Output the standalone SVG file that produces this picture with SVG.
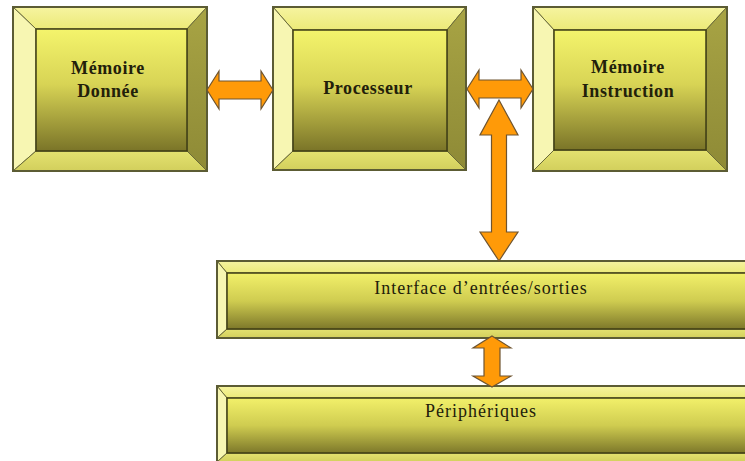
<svg xmlns="http://www.w3.org/2000/svg" width="745" height="461" viewBox="0 0 745 461">
<defs>
<linearGradient id="face" x1="0" y1="0" x2="0" y2="1">
<stop offset="0" stop-color="#f4f46c"/>
<stop offset="0.45" stop-color="#d8d455"/>
<stop offset="1" stop-color="#7a7428"/>
</linearGradient>
<linearGradient id="barface" x1="0" y1="0" x2="0" y2="1">
<stop offset="0" stop-color="#f2f06a"/>
<stop offset="0.5" stop-color="#cfcc50"/>
<stop offset="1" stop-color="#7d782a"/>
</linearGradient>
<linearGradient id="topb" x1="0" y1="0" x2="0" y2="1">
<stop offset="0" stop-color="#f6f4a0"/>
<stop offset="1" stop-color="#ecea78"/>
</linearGradient>
<linearGradient id="botb" x1="0" y1="0" x2="0" y2="1">
<stop offset="0" stop-color="#e4e270"/>
<stop offset="1" stop-color="#d2cf5c"/>
</linearGradient>
<linearGradient id="rightb" x1="0" y1="0" x2="0" y2="1">
<stop offset="0" stop-color="#a8a444"/>
<stop offset="1" stop-color="#8e8a36"/>
</linearGradient>
</defs>
<style>
.bg{fill:#ffffff}
.lb{fill:#f7f6b2;stroke:#6a6a38;stroke-width:1}
.tb{fill:url(#topb);stroke:#6a6a38;stroke-width:1}
.rb{fill:url(#rightb);stroke:#6a6a38;stroke-width:1}
.bb{fill:url(#botb);stroke:#6a6a38;stroke-width:1}
.face{fill:url(#face);stroke:#3e3c14;stroke-width:1.5}
.bface{fill:url(#barface);stroke:#3e3c14;stroke-width:1.5}
.outer{fill:none;stroke:#5c5c34;stroke-width:2}
.lbl{font-family:"Liberation Serif","Times New Roman",serif;font-weight:bold;font-size:18px;letter-spacing:0.6px;fill:#22200a;text-anchor:middle}
.blbl{font-family:"Liberation Serif","Times New Roman",serif;font-size:18px;letter-spacing:1px;fill:#22200a;text-anchor:middle}
.arrow{fill:#ff9a08;stroke:#6e5430;stroke-width:1.2;stroke-linejoin:miter}
</style>
<rect class="bg" x="0" y="0" width="745" height="461"/>

<g id="memoire-donnee">
<polygon class="tb" points="13,7 207,7 187,29 36,29"/>
<polygon class="lb" points="13,7 36,29 36,151 13,171"/>
<polygon class="rb" points="207,7 207,171 187,151 187,29"/>
<polygon class="bb" points="13,171 36,151 187,151 207,171"/>
<rect class="face" x="36" y="29" width="151" height="122"/>
<rect class="outer" x="13" y="7" width="194" height="164"/>
<text class="lbl" x="108" y="74">Mémoire</text>
<text class="lbl" x="108" y="97">Donnée</text>
</g>

<g id="processeur">
<polygon class="tb" points="273,7 466,7 447,30 293,30"/>
<polygon class="lb" points="273,7 293,30 293,151 273,170"/>
<polygon class="rb" points="466,7 466,170 447,151 447,30"/>
<polygon class="bb" points="273,170 293,151 447,151 466,170"/>
<rect class="face" x="293" y="30" width="154" height="121"/>
<rect class="outer" x="273" y="7" width="193" height="163"/>
<text class="lbl" x="368" y="94">Processeur</text>
</g>

<g id="memoire-instruction">
<polygon class="tb" points="533,7 727,7 706,30 554,30"/>
<polygon class="lb" points="533,7 554,30 554,150 533,171"/>
<polygon class="rb" points="727,7 727,171 706,150 706,30"/>
<polygon class="bb" points="533,171 554,150 706,150 727,171"/>
<rect class="face" x="554" y="30" width="152" height="120"/>
<rect class="outer" x="533" y="7" width="194" height="164"/>
<text class="lbl" x="628" y="73">Mémoire</text>
<text class="lbl" x="628" y="97">Instruction</text>
</g>

<g id="interface-es">
<polygon class="tb" points="217,261 750,261 750,273 227,273"/>
<polygon class="lb" points="217,261 227,273 227,329 217,338"/>
<polygon class="bb" points="217,338 227,329 750,329 750,338"/>
<rect class="bface" x="227" y="273" width="523" height="56"/>
<rect class="outer" x="217" y="261" width="533" height="77"/>
<text class="blbl" x="481" y="294">Interface d’entrées/sorties</text>
</g>

<g id="peripheriques">
<polygon class="tb" points="217,386 750,386 750,398 227,398"/>
<polygon class="lb" points="217,386 227,398 227,453 217,462"/>
<polygon class="bb" points="217,462 227,453 750,453 750,462"/>
<rect class="bface" x="227" y="398" width="523" height="55"/>
<rect class="outer" x="217" y="386" width="533" height="80"/>
<text class="blbl" x="481" y="417">Périphériques</text>
</g>

<g id="connectors">
<polygon class="arrow" points="499,100 518,135 506.5,135 506.5,232 518,232 499,261 480,232 491.5,232 491.5,135 480,135"/>
<polygon class="arrow" points="207,90 219,71 219,81 261,81 261,71 273,90 261,109 261,99 219,99 219,109"/>
<polygon class="arrow" points="467,89 479,70 479,80 521,80 521,70 533,89 521,108 521,98 479,98 479,108"/>
<polygon class="arrow" points="492,336 511,348 500,348 500,376 511,376 492,387 473,376 484,376 484,348 473,348"/>
</g>
</svg>
